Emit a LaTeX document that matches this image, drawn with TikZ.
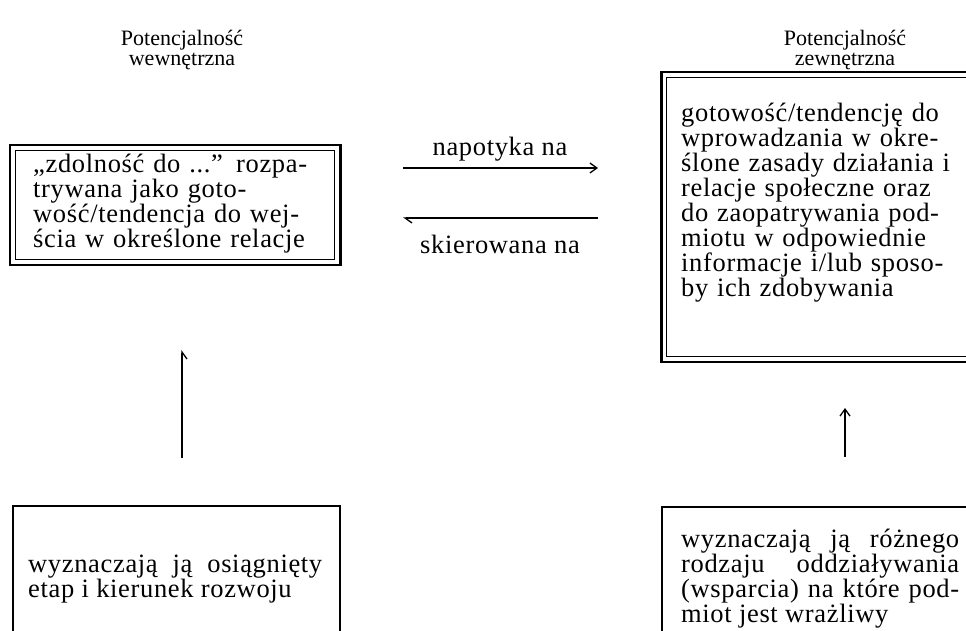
\documentclass[tikz,border=0pt]{standalone}
\usepackage{fontspec}
\setmainfont{Liberation Serif}
\newfontfamily\spacedserif[LetterSpace=2.5]{Liberation Serif}
\usetikzlibrary{arrows.meta,positioning,calc}

\tikzset{
  inframe/.style={draw, line width=1.3pt, inner sep=0pt, anchor=north west},
  outframe/.style={line width=2.4pt},
  plainframe/.style={draw, line width=1.8pt, inner sep=0pt, anchor=north west},
  boxtext/.style={inner sep=0pt, anchor=base west, font=\spacedserif\fontsize{26.5}{25}\selectfont},
  headtext/.style={inner sep=0pt, align=center, font=\fontsize{22}{20}\selectfont},
  linktext/.style={inner sep=0pt, anchor=base, font=\spacedserif\fontsize{26.5}{25}\selectfont},
  link/.style={line width=1.3pt}
}

\begin{document}
\begin{tikzpicture}[x=1pt, y=1pt, >={Straight Barb[length=7pt,width=10pt]}]
  \useasboundingbox (0,0) rectangle (966,631);
  \clip (0,0) rectangle (966,631);

  % naglowki
  \node[headtext] (headin) at (182,581) {Potencjalność\\wewnętrzna};
  \node[headtext] (headout) at (845,581) {Potencjalność\\zewnętrzna};

  % potencjalnosc wewnetrzna
  \node[inframe, minimum width=319pt, minimum height=109pt] (potin) at (15,481) {};
  \draw[outframe] ([shift={(-5,-5)}]potin.south west) rectangle ([shift={(5,5)}]potin.north east);
  \node[boxtext, text width=290pt, align=left] (potintext) at ([shift={(18,-23)}]potin.north west)
    {„zdolność do ...” rozpa-\\trywana jako goto-\\wość/tendencja do wej-\\ścia w określone relacje};

  % potencjalnosc zewnetrzna
  \node[inframe, minimum width=340pt, minimum height=279pt] (potout) at (666,554) {};
  \draw[outframe] ([shift={(-4.5,-5)}]potout.south west) rectangle ([shift={(4.5,5)}]potout.north east);
  \node[boxtext, text width=300pt, align=left] (potouttext) at ([shift={(15,-45)}]potout.north west)
    {gotowość/tendencję do\\wprowadzania w okre-\\ślone zasady działania i\\relacje społeczne oraz\\do zaopatrywania pod-\\miotu w odpowiednie\\informacje i/lub sposo-\\by ich zdobywania};

  % uwarunkowania
  \node[plainframe, minimum width=327pt, minimum height=170pt] (rozwoj) at (12,126) {};
  \node[boxtext, text width=294pt, align=justify] (rozwojtext) at ([shift={(16,-68)}]rozwoj.north west)
    {wyznaczają ją osiągnięty\linebreak etap i kierunek rozwoju};

  \node[plainframe, minimum width=345pt, minimum height=170pt] (wsparcie) at (661,125) {};
  \node[boxtext, text width=278pt, align=justify] (wsparcietext) at ([shift={(20,-42)}]wsparcie.north west)
    {wyznaczają ją różnego\linebreak rodzaju oddziaływania\linebreak (wsparcia) na które pod-\linebreak miot jest wrażliwy};

  % strzalki
  \coordinate (inbase) at (182,173);
  \coordinate (intip) at (182,281);
  \coordinate (outbase) at (845,174);
  \coordinate (outtip) at (845,223);
  \coordinate (napstart) at (403,463);
  \coordinate (napend) at (598,463);
  \coordinate (skstart) at (598,413);
  \coordinate (skend) at (403,413);

  \draw[link, -{Straight Barb[right,length=7pt,width=10pt]}] (inbase) -- (intip);
  \draw[link, ->] (outbase) -- (outtip);
  \draw[link, ->] (napstart) -- (napend);
  \draw[link, -{Straight Barb[left,length=7pt,width=10pt]}] (skstart) -- (skend);

  \node[linktext] (napotyka) at (500,475) {napotyka na};
  \node[linktext] (skierowana) at (500,377) {skierowana na};
\end{tikzpicture}
\end{document}
